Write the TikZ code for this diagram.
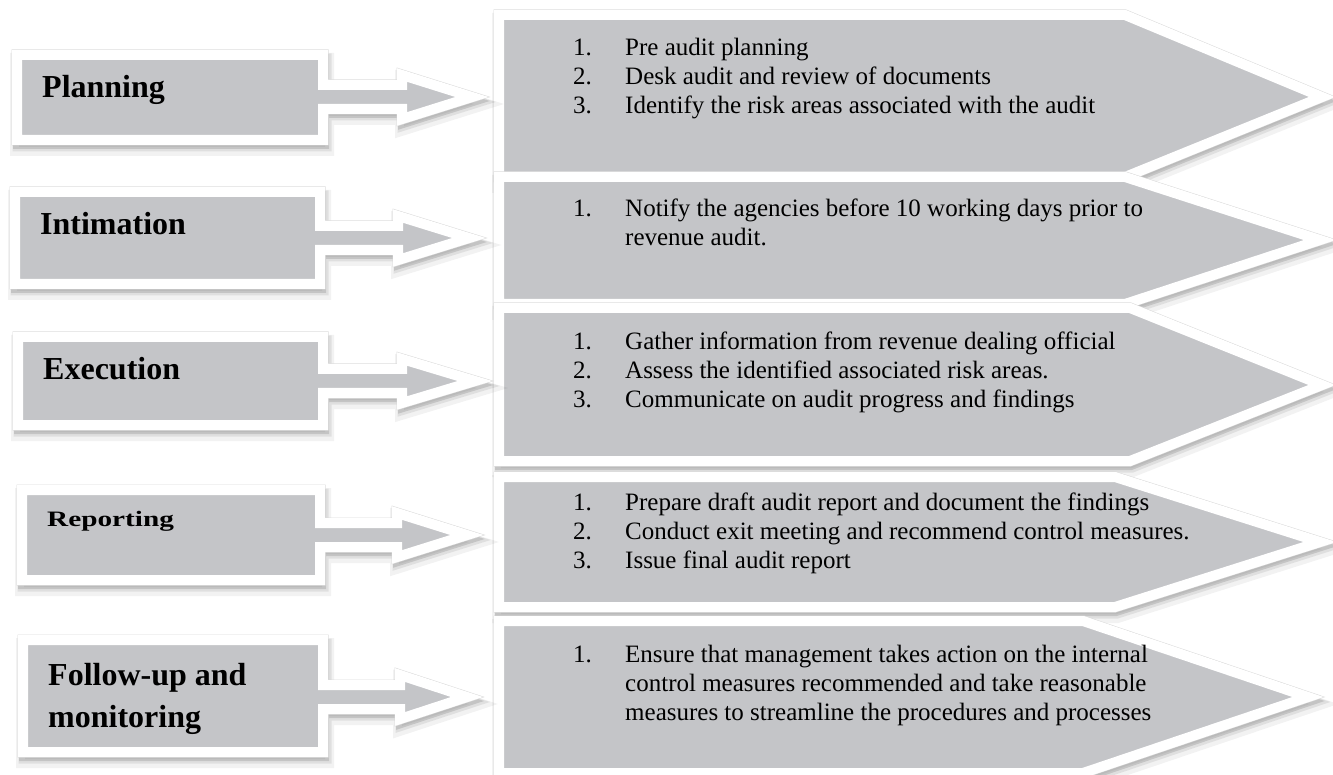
\documentclass[tikz,border=0pt]{standalone}
\usepackage{fontspec}
\setmainfont{Liberation Serif}
\usepackage{xcolor}
\usepackage{tikz}

\definecolor{panelgray}{RGB}{196,197,200}

\begin{document}
\begin{tikzpicture}[x=1pt,y=-1pt,
	panel/.style={fill=panelgray, draw=white, line width=10pt, line join=miter,
		preaction={draw=black, fill=black, line width=18pt, opacity=.05,
			transform canvas={shift={(2pt,-7pt)}}},
		preaction={draw=black, fill=black, line width=13pt, opacity=.08,
			transform canvas={shift={(2pt,-5pt)}}},
		preaction={draw=black, fill=black, line width=10pt, opacity=.12,
			transform canvas={shift={(1pt,-4pt)}}},
		preaction={draw=black!15, line width=11pt}},
	stage/.style={font=\bfseries\fontsize{32}{42}\selectfont, inner sep=0pt,
		anchor=base west, align=left},
	items/.style={font=\fontsize{25}{29}\selectfont, inner sep=0pt, anchor=base west}]
	
	\useasboundingbox (0,0) rectangle (1333,775);
	
	% right side panels
	\draw[panel] (499,15) -- (1125,15) -- (1322,97) -- (1125,177) -- (499,177) -- cycle;
	\draw[panel] (499,177) -- (1125,177) -- (1320,240) -- (1125,304) -- (499,304) -- cycle;
	\draw[panel] (499,308) -- (1130,308) -- (1322,385) -- (1130,461) -- (499,461) -- cycle;
	\draw[panel] (499,477) -- (1115,477) -- (1320,542) -- (1115,607) -- (499,607) -- cycle;
	\draw[panel] (499,621) -- (1083,621) -- (1308,697) -- (1083,773) -- (499,773) -- cycle;
	
	% left side block arrows
	\draw[panel] (17,55) -- (323,55) -- (323,85) -- (402,85) -- (402,75) -- (472,97)
		-- (402,119) -- (402,109) -- (323,109) -- (323,140) -- (17,140) -- cycle;
	\draw[panel] (15,192) -- (320,192) -- (320,226) -- (398,226) -- (398,216) -- (469,238)
		-- (398,260) -- (398,250) -- (320,250) -- (320,284) -- (15,284) -- cycle;
	\draw[panel] (18,337) -- (323,337) -- (323,369) -- (402,369) -- (402,359) -- (475,381)
		-- (402,403) -- (402,393) -- (323,393) -- (323,425) -- (18,425) -- cycle;
	\draw[panel] (22,490) -- (320,490) -- (320,523) -- (397,523) -- (397,513) -- (467,535)
		-- (397,557) -- (397,547) -- (320,547) -- (320,580) -- (22,580) -- cycle;
	\draw[panel] (23,640) -- (323,640) -- (323,685) -- (400,685) -- (400,675) -- (467,697)
		-- (400,719) -- (400,709) -- (323,709) -- (323,752) -- (23,752) -- cycle;
	
	% stage names
	\node[stage] (planning) at (42,98) {Planning};
	\node[stage] (intimation) at (40,235) {Intimation};
	\node[stage] (execution) at (43,380) {Execution};
	\node[stage, font=\bfseries\fontsize{22}{26}\selectfont] (reporting) at (47,526)
		{\scalebox{1.33}[1]{Reporting}};
	\node[stage] (followup) at (48,727) {Follow-up and\\monitoring};
	
	% activities
	\node[items] (planitems) at (573,56) {\begin{tabular}[t]{@{}p{52pt}@{}l@{}}
		1. & Pre audit planning\\
		2. & Desk audit and review of documents\\
		3. & Identify the risk areas associated with the audit
	\end{tabular}};
	\node[items] (intimitems) at (573,217) {\begin{tabular}[t]{@{}p{52pt}@{}l@{}}
		1. & Notify the agencies before 10 working days prior to\\
		   & revenue audit.
	\end{tabular}};
	\node[items] (execitems) at (573,350) {\begin{tabular}[t]{@{}p{52pt}@{}l@{}}
		1. & Gather information from revenue dealing official\\
		2. & Assess the identified associated risk areas.\\
		3. & Communicate on audit progress and findings
	\end{tabular}};
	\node[items] (repitems) at (573,510) {\begin{tabular}[t]{@{}p{52pt}@{}l@{}}
		1. & Prepare draft audit report and document the findings\\
		2. & Conduct exit meeting and recommend control measures.\\
		3. & Issue final audit report
	\end{tabular}};
	\node[items] (followitems) at (573,662) {\begin{tabular}[t]{@{}p{52pt}@{}l@{}}
		1. & Ensure that management takes action on the internal\\
		   & control measures recommended and take reasonable\\
		   & measures to streamline the procedures and processes
	\end{tabular}};
	
\end{tikzpicture}
\end{document}
